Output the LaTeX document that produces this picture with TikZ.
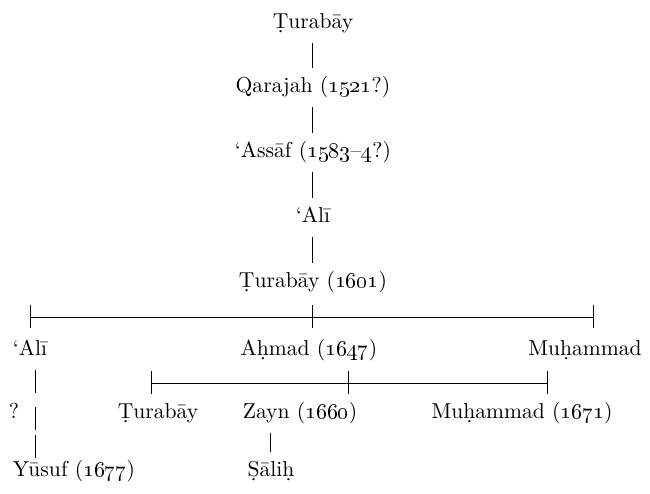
\documentclass[tikz,border=0pt]{standalone}
\newcommand{\yr}[1]{\oldstylenums{#1}}

\begin{document}
\begin{tikzpicture}[x=0.5pt,y=-0.5pt,line width=0.5pt,
  every node/.style={font=\fontsize{10.8}{12}\selectfont,anchor=base,
    text height=8pt,text depth=3pt,inner sep=4pt}]
  \useasboundingbox (0,0) rectangle (650,494);
  % line of descent
  \node (turabay) at (313,28) {\d{T}urab\={a}y};
  \node (qarajah) at (313,92) {Qarajah (\yr{1521}?)};
  \node (assaf) at (313,157) {`Ass\={a}f (\yr{1583}--\yr{4}?)};
  \node (ali) at (313,222) {`Al\={\i}};
  \node (turabayb) at (313,287) {\d{T}urab\={a}y (\yr{1601})};
  \draw (turabay) -- (qarajah);
  \draw (qarajah) -- (assaf);
  \draw (assaf) -- (ali);
  \draw (ali) -- (turabayb);
  % sons of Turabay (1601)
  \draw (31,317) -- (594,317);
  \draw (31,305) -- +(0,23);
  \draw (313,305) -- +(0,23);
  \draw (594,305) -- +(0,23);
  \node (alib) at (30,355) {`Al\={\i}};
  \node (ahmad) at (309,355) {A\d{h}mad (\yr{1647})};
  \node (muhammad) at (585,355) {Mu\d{h}ammad};
  % sons of Ahmad
  \draw (152,383) -- (548,383);
  \draw (152,371) -- +(0,23);
  \draw (349,371) -- +(0,23);
  \draw (548,371) -- +(0,23);
  \node (turabayc) at (158,418) {\d{T}urab\={a}y};
  \node (zayn) at (300,418) {Zayn (\yr{1660})};
  \node (muhammadb) at (522,418) {Mu\d{h}ammad (\yr{1671})};
  % Ali's line
  \draw (36,370) -- (36,393);
  \draw (36,407) -- (36,430);
  \draw (36,435) -- (36,458);
  \node (query) at (14,418) {?};
  \node (yusuf) at (74,476) {Y\={u}suf (\yr{1677})};
  % Zayn's son
  \node (salih) at (271,476) {\d{S}\={a}li\d{h}};
  \draw (salih.north) -- (salih.north |- zayn.south);
\end{tikzpicture}
\end{document}
